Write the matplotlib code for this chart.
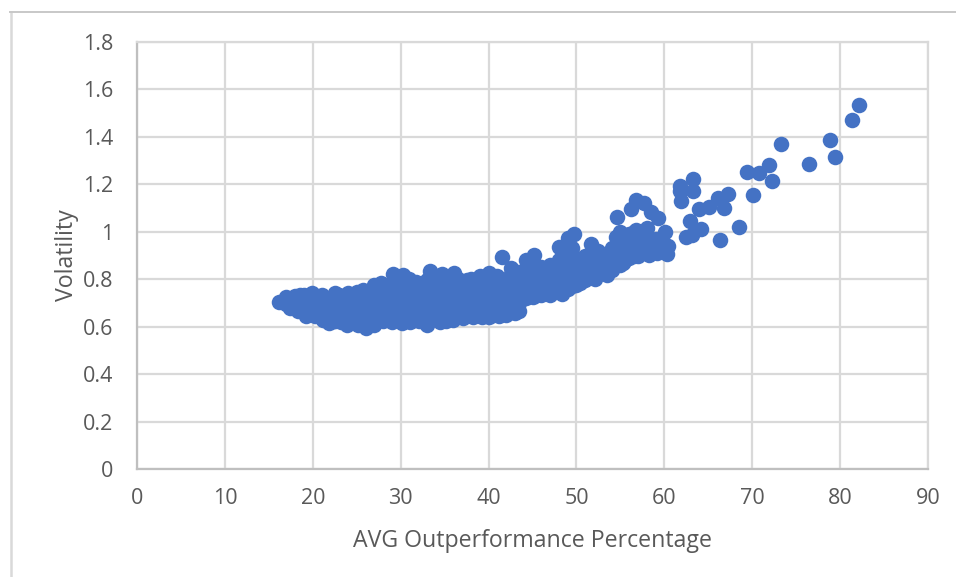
import matplotlib
matplotlib.use('Agg')
import matplotlib.pyplot as plt
from matplotlib.lines import Line2D

# main cloud
cloud_x = [16.1, 16.9, 17.0, 17.4, 18.0, 18.1, 18.3, 18.5,
           19.0, 19.1, 19.2, 19.9, 20.0, 20.1, 20.2,
           21.0, 21.1, 21.0, 21.2, 21.8, 22.0, 22.0, 22.5, 22.4,
           23.0, 23.1, 23.0, 23.2, 23.9, 24.0, 24.1, 24.2, 24.0,
           25.0, 25.1, 25.0, 25.2, 25.1, 25.7, 26.0, 26.0, 26.1, 26.1,
           27.0, 27.0, 27.1, 27.2, 27.0, 27.8, 28.0, 28.0, 28.1, 28.0, 28.1,
           29.1, 29.0, 29.0, 29.1, 29.2, 29.0, 30.3, 30.1, 30.0, 30.1, 30.0, 30.2,
           31.0, 31.1, 31.0, 31.2, 31.1, 31.8, 32.0, 32.0, 32.1, 32.0, 32.1,
           33.3, 33.0, 33.1, 33.0, 33.2, 33.0, 34.0, 34.0, 34.1, 34.0, 34.2, 34.5,
           34.7, 35.0, 35.1, 35.0, 35.2, 36.1, 36.0, 36.0, 36.1, 36.2, 36.0,
           37.5, 37.0, 37.0, 37.1, 37.1, 38.0, 38.0, 38.1, 38.0, 38.2,
           39.0, 39.1, 39.0, 39.0, 39.2, 40.0, 40.0, 40.1, 40.0, 40.0,
           41.0, 41.1, 41.0, 41.0, 41.2, 42.6, 42.0, 42.0, 42.1, 42.0,
           43.0, 43.0, 43.1, 43.0, 44.3, 44.0, 44.0, 44.3, 45.2, 45.0, 45.1, 45.0,
           46.0, 46.0, 46.1, 46.0, 47.0, 47.0, 47.1, 47.0,
           48.0, 48.0, 48.1, 48.4, 48.0, 49.0, 49.0, 49.1, 49.0, 49.7, 50.0, 50.1, 50.4, 50.0,
           51.0, 51.1, 51.0, 51.7, 51.9, 52.0, 52.1, 52.3, 53.0, 53.0, 53.5, 53.1,
           54.0, 54.0, 54.1, 54.2, 54.9, 55.0, 55.1, 55.3, 55.0, 56.0, 56.1, 56.0, 56.2,
           56.8, 56.9, 57.0, 57.0, 58.0, 58.2, 58.1, 59.0, 59.1, 59.2]
cloud_y = [.703, .727, .695, .679, .73, .70, .665, .733,
           .735, .70, .645, .74, .705, .675, .645,
           .735, .70, .665, .63, .615, .705, .66, .743, .625,
           .735, .70, .66, .62, .607, .74, .705, .67, .635,
           .745, .71, .675, .64, .605, .755, .72, .68, .64, .596,
           .775, .735, .695, .65, .605, .783, .745, .705, .665, .625, .645,
           .82, .78, .74, .70, .66, .62, .818, .775, .735, .695, .655, .615,
           .80, .76, .72, .68, .62, .79, .755, .715, .675, .65, .625,
           .836, .795, .755, .715, .67, .607, .815, .775, .735, .695, .655, .621,
           .82, .775, .735, .695, .625, .825, .785, .745, .705, .665, .63,
           .797, .76, .72, .68, .635, .80, .76, .72, .68, .64,
           .815, .775, .735, .695, .64, .825, .785, .745, .695, .64,
           .815, .775, .735, .69, .645, .846, .795, .755, .705, .65,
           .80, .76, .71, .656, .881, .80, .76, .72, .902, .82, .78, .725,
           .85, .80, .76, .733, .86, .82, .78, .735,
           .937, .881, .82, .738, .78, .974, .88, .82, .76, .99, .89, .83, .783, .775,
           .90, .85, .795, .947, .88, .83, .80, .86, .89, .845, .818, .87,
           .93, .885, .84, .87, 1.0, .95, .90, .868, .86, .99, .94, .89, .91,
           1.008, .95, .90, .92, 1.015, .902, .96, .97, .93, .91]

# points between the columns above, the cloud is solid in the picture
inner_x = [18.5, 18.5, 19.5, 19.5, 19.5, 20.5, 20.5, 20.5, 21.5, 21.5, 21.5, 21.5,
           22.5, 22.5, 22.5, 22.5, 23.5, 23.5, 23.5, 23.5, 24.5, 24.5, 24.5, 24.5,
           25.5, 25.5, 25.5, 25.5, 26.5, 26.5, 26.5, 26.5, 27.5, 27.5, 27.5, 27.5,
           28.5, 28.5, 28.5, 28.5, 29.5, 29.5, 29.5, 29.5, 29.5,
           30.5, 30.5, 30.5, 30.5, 30.5, 31.5, 31.5, 31.5, 31.5, 31.5,
           32.5, 32.5, 32.5, 32.5, 32.5, 33.5, 33.5, 33.5, 33.5, 33.5,
           34.5, 34.5, 34.5, 34.5, 34.5, 35.5, 35.5, 35.5, 35.5, 35.5,
           36.5, 36.5, 36.5, 36.5, 36.5, 37.5, 37.5, 37.5, 37.5,
           38.5, 38.5, 38.5, 38.5, 39.5, 39.5, 39.5, 39.5, 39.5,
           40.5, 40.5, 40.5, 40.5, 40.5, 41.5, 41.5, 41.5, 41.5,
           42.5, 42.5, 42.5, 42.5, 42.5, 43.5, 43.5, 43.5, 43.5, 43.5,
           44.5, 44.5, 44.5, 44.5, 45.5, 45.5, 45.5, 45.5, 46.5, 46.5, 46.5, 46.5,
           47.5, 47.5, 47.5, 47.5, 48.5, 48.5, 48.5, 48.5, 49.5, 49.5, 49.5, 49.5,
           50.5, 50.5, 50.5, 51.5, 51.5, 51.5, 52.5, 52.5, 52.5, 53.5, 53.5, 53.5,
           54.5, 54.5, 54.5, 55.5, 55.5, 55.5, 56.5, 56.5, 56.5, 57.5, 57.5, 57.5]
inner_y = [.70, .67, .71, .68, .66, .72, .69, .66, .72, .69, .66, .635,
           .71, .68, .65, .625, .72, .69, .66, .63, .725, .69, .655, .62,
           .73, .695, .66, .625, .74, .70, .665, .625, .755, .715, .675, .635,
           .76, .72, .68, .64, .80, .76, .72, .68, .64,
           .795, .755, .715, .675, .635, .78, .74, .70, .66, .63,
           .78, .74, .70, .66, .63, .80, .76, .72, .68, .64,
           .795, .755, .715, .675, .64, .80, .76, .72, .68, .64,
           .80, .76, .72, .68, .645, .76, .72, .68, .65,
           .78, .74, .70, .66, .795, .755, .715, .675, .65,
           .80, .76, .72, .68, .65, .79, .75, .71, .67,
           .82, .775, .735, .69, .66, .83, .78, .74, .70, .665,
           .85, .80, .76, .73, .84, .80, .76, .735, .84, .80, .76, .74,
           .86, .80, .76, .745, .92, .86, .80, .76, .93, .86, .80, .77,
           .88, .84, .80, .90, .85, .81, .92, .88, .83, .90, .86, .83,
           .98, .92, .88, .97, .92, .88, 1.0, .95, .90, .99, .94, .91]

# loose points along the upper end
tail_x = [41.5, 54.6, 56.2, 56.8, 57.7, 58.5, 59.3, 60.1, 60.4, 60.3,
          61.8, 61.8, 61.9, 62.5, 62.9, 63.1, 63.3, 63.3, 64.0, 64.2,
          65.1, 66.1, 66.3, 66.8, 67.2, 68.5, 69.4, 70.1, 70.8, 71.9,
          72.3, 73.3, 76.5, 78.8, 79.4, 81.3, 82.1]
tail_y = [.895, 1.061, 1.096, 1.134, 1.12, 1.085, 1.057, .998, .941, .906,
          1.193, 1.17, 1.131, .977, 1.044, .987, 1.223, 1.172, 1.097, 1.01,
          1.103, 1.141, .967, 1.10, 1.158, 1.022, 1.254, 1.155, 1.247, 1.28,
          1.214, 1.371, 1.286, 1.387, 1.317, 1.473, 1.533]

x_ticks = [0, 10, 20, 30, 40, 50, 60, 70, 80, 90]
y_ticks = [0, 0.2, 0.4, 0.6, 0.8, 1, 1.2, 1.4, 1.6, 1.8]
y_labels = ['0', '0.2', '0.4', '0.6', '0.8', '1', '1.2', '1.4', '1.6', '1.8']

plt.rcParams['font.family'] = ['Open Sans', 'DejaVu Sans']

fig = plt.figure(figsize=(9.56, 5.77), dpi=100)
ax = fig.add_axes([137 / 956, 1 - 469 / 577, (928 - 137) / 956, (469 - 42) / 577])

ax.scatter(cloud_x + inner_x + tail_x, cloud_y + inner_y + tail_y, s=125, color='#4472C4',
           linewidths=0, zorder=3, clip_on=False)

ax.set_xlim(0, 90)
ax.set_ylim(0, 1.8)
ax.set_xticks(x_ticks)
ax.set_yticks(y_ticks)
ax.set_yticklabels(y_labels)
ax.tick_params(length=0, labelsize=15.5, labelcolor='#595959')
ax.tick_params(axis='x', pad=14)
ax.tick_params(axis='y', pad=17)
ax.grid(color='#d9d9d9', linewidth=1.6, zorder=0)
ax.set_axisbelow(True)
for side in ['top', 'right']:
    ax.spines[side].set_color('#d9d9d9')
    ax.spines[side].set_linewidth(1.6)
for side in ['left', 'bottom']:
    ax.spines[side].set_color('#bfbfbf')
    ax.spines[side].set_linewidth(1.6)

ax.set_xlabel('AVG Outperformance Percentage', fontsize=16.7, color='#595959', labelpad=14)
ax.set_ylabel('Volatility', fontsize=16.7, color='#595959', labelpad=3)

# outer chart frame, cropped on the right and bottom
fig.add_artist(Line2D([10.5 / 956, 10.5 / 956], [0, 1 - 12 / 577], color='#d9d9d9', linewidth=1.8))
fig.add_artist(Line2D([10 / 956, 1], [1 - 12 / 577, 1 - 12 / 577], color='#c8c8c8', linewidth=1.4))

plt.savefig('out.png', dpi=100)
